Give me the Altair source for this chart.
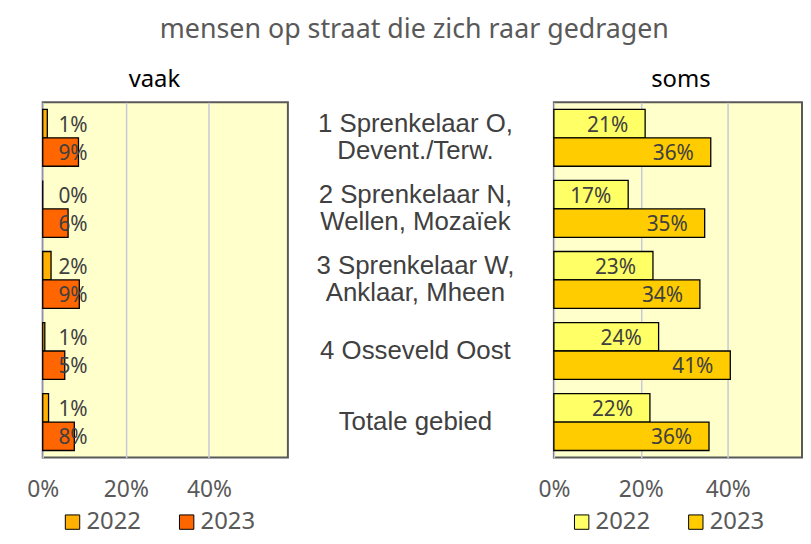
import altair as alt
import pandas as pd

categories = [
    "1 Sprenkelaar O,\nDevent./Terw.",
    "2 Sprenkelaar N,\nWellen, Mozaïek",
    "3 Sprenkelaar W,\nAnklaar, Mheen",
    "4 Osseveld Oost",
    "Totale gebied",
]
years = ["2022", "2023"]

# percentages
vaak_2022 = [1.1, 0.0, 2.0, 0.5, 1.4]
vaak_2023 = [8.6, 6.1, 8.8, 5.3, 7.6]
soms_2022 = [21.0, 17.1, 22.8, 24.1, 22.1]
soms_2023 = [36.1, 34.7, 33.6, 40.6, 35.7]

vaak_colors = ["#FFB000", "#FF6600"]
soms_colors = ["#FFFF66", "#FFCC00"]

FONT = "Noto Sans"


def long(v22, v23):
    rows = []
    for c, a, b in zip(categories, v22, v23):
        rows.append(dict(cat=c, year="2022", value=a, label=f"{int(a + 0.5)}%"))
        rows.append(dict(cat=c, year="2023", value=b, label=f"{int(b + 0.5)}%"))
    return pd.DataFrame(rows)


def yenc():
    return alt.Y("cat:N", sort=categories, axis=None,
                 scale=alt.Scale(paddingInner=0.2, paddingOuter=0.1))


def panel(df, title, dmax, width, colors, fixed_label, title_dx, legend_x):
    xscale = alt.Scale(domain=[0, dmax], nice=False, zero=True)
    xaxis = alt.Axis(values=[0, 20, 40], labelExpr="datum.value + '%'", grid=True,
                     gridColor="#C8C8D8", gridWidth=1.5, domain=False, ticks=False,
                     labelFont=FONT, labelFontSize=23, labelColor="#595959",
                     labelPadding=21, labelFlush=False, title=None)
    yoff = alt.YOffset("year:N", sort=years)
    bars = alt.Chart(df).mark_bar(stroke="black", strokeWidth=1.3).encode(
        y=yenc(), yOffset=yoff,
        x=alt.X("value:Q", scale=xscale, axis=xaxis),
        color=alt.Color("year:N", scale=alt.Scale(domain=years, range=colors),
                        legend=alt.Legend(title=None, orient="none", legendX=legend_x, legendY=411,
                                          direction="horizontal", symbolType="square",
                                          symbolSize=210, symbolStrokeColor="black",
                                          symbolStrokeWidth=1, labelFont=FONT,
                                          labelFontSize=24, labelColor="#595959",
                                          columnPadding=34, labelOffset=2)),
    )
    if fixed_label:
        text = alt.Chart(df).transform_calculate(lx="10.8").mark_text(
            align="right", baseline="middle", dy=2, font=FONT, fontSize=21, color="#404040"
        ).encode(y=yenc(), yOffset=yoff, x=alt.X("lx:Q", scale=xscale, axis=xaxis), text="label:N")
    else:
        text = alt.Chart(df).mark_text(
            align="right", baseline="middle", dx=-17, dy=2, font=FONT, fontSize=21, color="#404040"
        ).encode(y=yenc(), yOffset=yoff, x=alt.X("value:Q", scale=xscale, axis=xaxis), text="label:N")
    return alt.layer(bars, text).properties(
        width=width, height=358,
        title=alt.TitleParams(title, font=FONT, fontSize=24, color="black",
                              fontWeight="normal", anchor="middle", dx=title_dx, offset=10),
        view=alt.ViewBackground(fill="#FFFFCC", stroke="#595959", strokeWidth=2),
    )


left = panel(long(vaak_2022, vaak_2023), "vaak", 59, 247, vaak_colors, True, -11, 18)
right = panel(long(soms_2022, soms_2023), "soms", 57.1, 250, soms_colors, False, 3, 16)

mid_df = pd.DataFrame({"cat": categories})
mid_df["n"] = [c.count("\n") + 1 for c in categories]
mid_base = alt.Chart(mid_df)
mid_two = mid_base.transform_filter("datum.n == 2").mark_text(
    font="Liberation Sans", fontSize=26, lineHeight=27, lineBreak="\n",
    color="#404040", dx=-5.5, dy=-13.5, baseline="middle"
).encode(y=yenc(), text="cat:N")
mid_one = mid_base.transform_filter("datum.n == 1").mark_text(
    font="Liberation Sans", fontSize=26, lineHeight=27, lineBreak="\n",
    color="#404040", dx=-5.5, baseline="middle"
).encode(y=yenc(), text="cat:N")
mid = alt.layer(mid_two, mid_one).properties(
    width=268, height=358, view=alt.ViewBackground(strokeOpacity=0)
)

chart = alt.hconcat(left, mid, right, spacing=0, bounds="flush").resolve_scale(
    x="independent", y="independent", color="independent"
).properties(
    title=alt.TitleParams("mensen op straat die zich raar gedragen", font=FONT, fontSize=27,
                          color="#595959", fontWeight="normal", anchor="middle", dx=0,
                          offset=24),
    padding={"left": 17, "top": 6, "right": 0, "bottom": 0},
)

chart.save("out.html", embed_options={"renderer": "svg", "actions": False})
